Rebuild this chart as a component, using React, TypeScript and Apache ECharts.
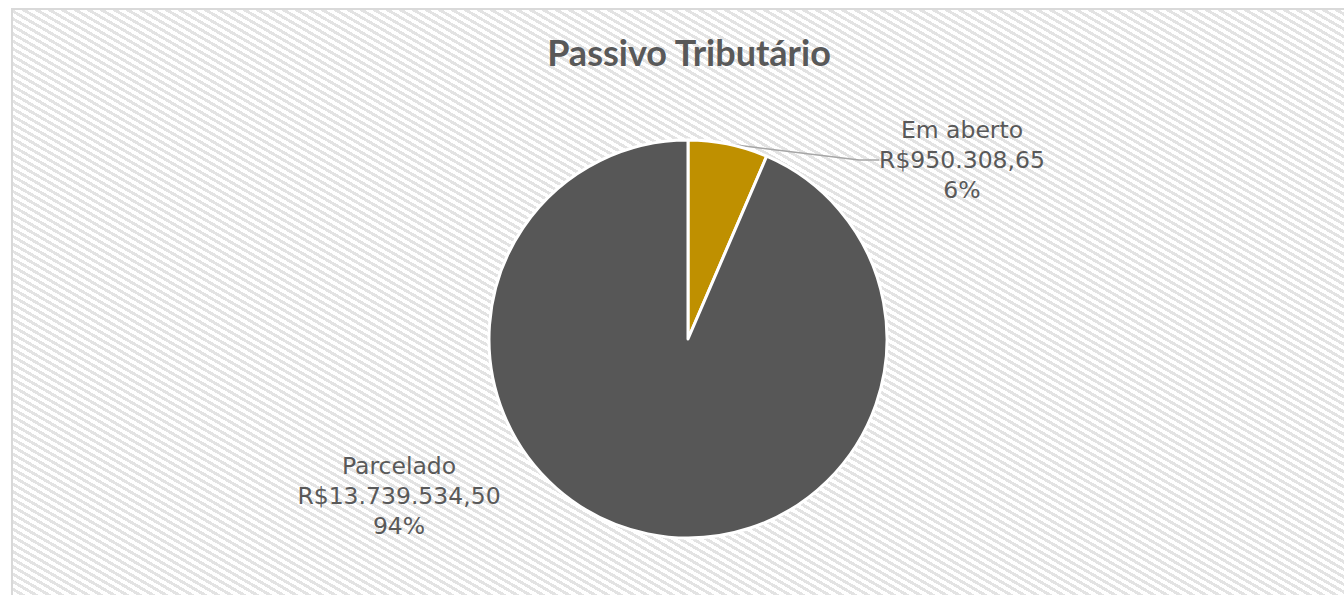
import React, { useEffect, useRef } from "react";
import * as echarts from "echarts";

const categories = ["Em aberto", "Parcelado"];
const values = [950308.65, 13739534.5];
const colors = ["#BF9000", "#575757"];
const titleText = "Passivo Tributário";

function formatBRL(v: number): string {
  const parts = v.toFixed(2).split(".");
  const intPart = parts[0].replace(/\B(?=(\d{3})+(?!\d))/g, ".");
  return "R$" + intPart + "," + parts[1];
}

export default function App() {
  const ref = useRef<HTMLDivElement>(null);
  useEffect(() => {
    if (!ref.current) return;
    const chart = echarts.init(ref.current, undefined, { renderer: "svg" });
    const labelPos = [
      { x: 962, y: 160 },
      { x: 399, y: 496 },
    ];
    chart.setOption({
      animation: false,
      backgroundColor: "transparent",
      title: {
        text: titleText,
        left: 684,
        top: 29,
        textAlign: "center",
        textStyle: {
          fontFamily: "Lato",
          fontWeight: "bold",
          fontSize: 36,
          color: "#595959",
        },
      },
      series: [
        {
          type: "pie",
          center: [688, 339],
          radius: 199,
          startAngle: 90,
          clockwise: true,
          itemStyle: { borderColor: "#ffffff", borderWidth: 3 },
          label: {
            show: true,
            position: "outside",
            fontFamily: "DejaVu Sans",
            fontSize: 23.5,
            lineHeight: 30,
            color: "#595959",
            align: "center",
            formatter: (p: any) =>
              p.name + "\n" + formatBRL(p.value) + "\n" + Math.round(p.percent) + "%",
          },
          labelLine: {
            show: true,
            length: 20,
            length2: 20,
            lineStyle: { color: "#A6A6A6", width: 1.5 },
          },
          labelLayout: (params: any) => {
            const pos = labelPos[params.dataIndex];
            return { x: pos.x, y: pos.y, align: "center", verticalAlign: "middle" };
          },
          data: categories.map((c, i) => ({
            name: c,
            value: values[i],
            itemStyle: { color: colors[i] },
            labelLine: { show: i === 0 },
          })),
        },
      ],
    });
    return () => chart.dispose();
  }, []);

  return (
    <div
      style={{
        position: "fixed",
        left: 0,
        top: 0,
        width: 1344,
        height: 595,
        background: "#ffffff",
        overflow: "hidden",
      }}
    >
      <div
        style={{
          position: "absolute",
          left: 11,
          top: 8,
          width: 1345,
          height: 600,
          border: "2px solid #d9d9d9",
          background:
            "repeating-linear-gradient(30deg, #ffffff 0px, #ffffff 3.5px, #e3e3e3 3.5px, #e3e3e3 6.5px)",
        }}
      />
      <div
        ref={ref}
        style={{ position: "absolute", left: 0, top: 0, width: 1344, height: 595 }}
      />
    </div>
  );
}
